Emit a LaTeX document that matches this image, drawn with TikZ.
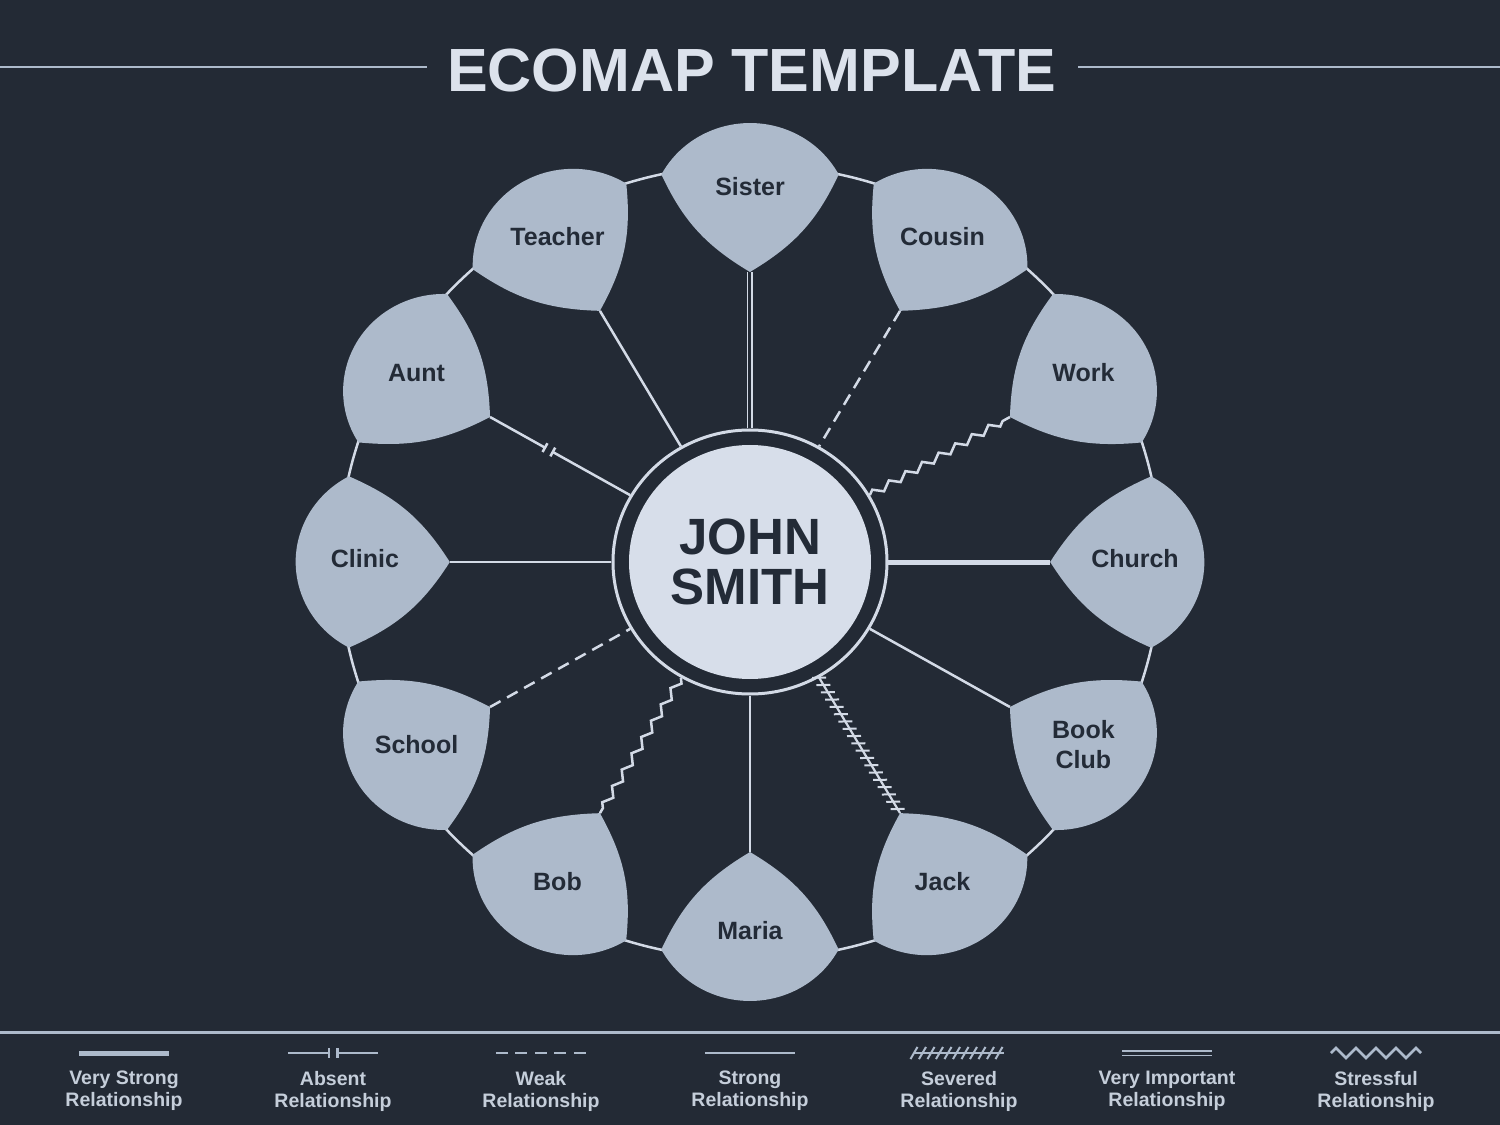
\documentclass[tikz,border=0pt]{standalone}
\usepackage{fontspec}
\setmainfont{Liberation Sans}
\usepackage{xcolor}
\usetikzlibrary{shapes.geometric,arrows.meta,decorations.pathmorphing,decorations.markings}

\definecolor{bgdark}{HTML}{232A35}
\definecolor{petalfill}{HTML}{ADBACB}
\definecolor{corefill}{HTML}{D7DEEA}
\definecolor{wire}{HTML}{D3DAE6}
\definecolor{ink}{HTML}{232B37}
\definecolor{titleink}{HTML}{DCE2EC}
\definecolor{legendink}{HTML}{C5CEDA}
\definecolor{legendline}{HTML}{ADBACB}

\begin{document}
\begin{tikzpicture}[
        x=1pt, y=1pt,
        petal/.pic={\fill[petalfill] (290,0) to[bend left=17] (387.5,85.6) arc[start angle=62, end angle=-62, radius=97] to[bend left=17] cycle; \coordinate (-tip) at (290,0);},
        turn/.style={xscale=1.035, rotate=#1},
        tag/.style={font=\fontsize{25}{30}\selectfont\bfseries, text=ink, align=center, yshift=3pt},
        halo/.style={ellipse, draw=wire, line width=3pt, fill=bgdark, minimum width=274pt, minimum height=264pt, inner sep=0pt},
        core/.style={ellipse, fill=corefill, minimum width=242pt, minimum height=234pt, inner sep=0pt, text=ink, align=center, font=\fontsize{51}{50}\selectfont\bfseries},
        strong/.style={draw=wire, line width=2.5pt},
        verystrong/.style={draw=wire, line width=5pt},
        weak/.style={draw=wire, line width=2.5pt, dash pattern=on 12pt off 7.5pt},
        vimportant/.style={draw=wire, line width=1.8pt, double=bgdark, double distance=3pt},
        stressful/.style={draw=wire, line width=2.5pt, decorate, decoration={zigzag, segment length=19pt, amplitude=3.6pt}},
        severed/.style={draw=#1, line width=2.2pt, postaction={decorate, decoration={markings, mark=between positions 0 and 1 step 8.5pt with {\draw[#1, line width=2pt] (60:7) -- (240:7);}}}},
        heading/.style={font=\fontsize{61}{61}\selectfont\bfseries, text=titleink, anchor=base, inner sep=0pt},
        titlerule/.style={draw=legendline, line width=2.5pt},
        legendtext/.style={font=\fontsize{19.5}{22}\selectfont\bfseries, text=legendink, align=center, anchor=north, inner sep=0pt}
    ]

    % Canvas
    \fill[bgdark] (-750,-563) rectangle (750,562);
    \useasboundingbox (-750,-563) rectangle (750,562);

    % Title
    \node[heading] (title) at (1.5,470) {ECOMAP TEMPLATE};
    \draw[titlerule] (-750,495) -- (-323,495);
    \draw[titlerule] (328,495) -- (750,495);

    % Ring of petals
    \draw[wire, line width=2.5pt, xscale=1.035] (0,0) circle[radius=397];
    \pic[turn=90] (sister) {petal};
    \pic[turn=60] (cousin) {petal};
    \pic[turn=30] (work) {petal};
    \pic[turn=0] (church) {petal};
    \pic[turn=-30] (bookclub) {petal};
    \pic[turn=-60] (jack) {petal};
    \pic[turn=-90] (maria) {petal};
    \pic[turn=-120] (bob) {petal};
    \pic[turn=-150] (school) {petal};
    \pic[turn=180] (clinic) {petal};
    \pic[turn=150] (aunt) {petal};
    \pic[turn=120] (teacher) {petal};

    \begin{scope}[xscale=1.035]
    \node[tag] (sister) at (90:372) {Sister};
    \node[tag] (cousin) at (60:372) {Cousin};
    \node[tag] (work) at (30:372) {Work};
    \node[tag] (church) at (0:372) {Church};
    \node[tag] (bookclub) at (-30:372) {Book\\Club};
    \node[tag] (jack) at (-60:372) {Jack};
    \node[tag] (maria) at (-90:372) {Maria};
    \node[tag] (bob) at (-120:372) {Bob};
    \node[tag] (school) at (-150:372) {School};
    \node[tag] (clinic) at (180:372) {Clinic};
    \node[tag] (aunt) at (150:372) {Aunt};
    \node[tag] (teacher) at (120:372) {Teacher};
    \end{scope}

    % Person in the middle
    \node[halo] (focus) at (0,0) {};
    \node[core] (john) at (0,0) {JOHN\\SMITH};

    % Connections
    \draw[vimportant] (focus) -- (sister-tip);
    \draw[weak] (cousin-tip) -- (focus);
    \draw[stressful] (focus) -- (work-tip);
    \draw[verystrong] (focus) -- (church-tip);
    \draw[strong] (focus) -- (bookclub-tip);
    \draw[severed=wire] (focus) -- (jack-tip);
    \draw[strong] (focus) -- (maria-tip);
    \draw[stressful] (focus) -- (bob-tip);
    \draw[weak] (school-tip) -- (focus);
    \draw[strong] (focus) -- (clinic-tip);
    \draw[strong] (focus) -- (teacher-tip);
    \path (focus) -- (aunt-tip) coordinate[pos=0.56] (aunt-cut1) coordinate[pos=0.6] (aunt-cut2);
    \draw[strong, -{Bar[width=10pt]}] (focus) -- (aunt-cut1);
    \draw[strong, {Bar[width=10pt]}-] (aunt-cut2) -- (aunt-tip);

    % Legend
    \draw[legendline, line width=3pt] (-750,-470) -- (750,-470);
    \draw[verystrong, draw=legendline] (-671,-491) -- ++(90,0);
    \draw[strong, draw=legendline, -{Bar[width=10pt]}] (-462,-491) -- (-419.5,-491);
    \draw[strong, draw=legendline, {Bar[width=10pt]}-] (-413.5,-491) -- (-372,-491);
    \draw[weak, draw=legendline] (-254,-491) -- ++(90,0);
    \draw[strong, draw=legendline] (-45,-491) -- ++(90,0);
    \draw[severed=legendline] (164,-491) -- ++(90,0);
    \draw[vimportant, draw=legendline] (372,-491) -- ++(90,0);
    \draw[stressful, draw=legendline, decoration={segment length=20pt, amplitude=5pt}] (581,-491) -- ++(90,0);

    \node[legendtext] at (-626,-509) {Very Strong\\Relationship};
    \node[legendtext] at (-417,-509) {Absent\\Relationship};
    \node[legendtext] at (-209,-509) {Weak\\Relationship};
    \node[legendtext] at (0,-509) {Strong\\Relationship};
    \node[legendtext] at (209,-509) {Severed\\Relationship};
    \node[legendtext] at (417,-509) {Very Important\\Relationship};
    \node[legendtext] at (626,-509) {Stressful\\Relationship};

\end{tikzpicture}
\end{document}
